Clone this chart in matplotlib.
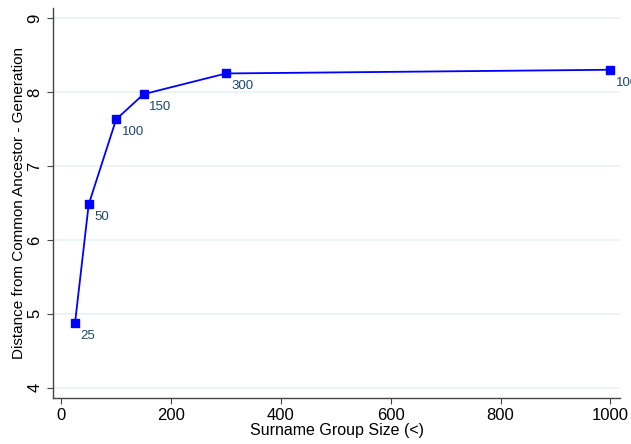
import matplotlib.pyplot as plt

plt.rcParams['font.family'] = ['Liberation Sans', 'DejaVu Sans']

group_size = [25, 50, 100, 150, 300, 1000]
distance = [4.87, 6.48, 7.63, 7.97, 8.25, 8.30]
point_labels = ["25", "50", "100", "150", "300", "1000"]

fig = plt.figure(figsize=(6.31, 4.44), dpi=100)
ax = fig.add_axes([0.084, 0.104, 0.899, 0.878])

ax.plot(group_size, distance, color='#0000ff', linewidth=1.3, marker='s',
        markersize=5.5, zorder=3)

# point labels below-right of each marker
for x, y, lab in zip(group_size, distance, point_labels):
    ax.annotate(lab, (x, y), xytext=(4, -5), textcoords='offset points',
                ha='left', va='top', fontsize=9.5, color='#1a476f',
                annotation_clip=False)

ax.set_xlim(-15, 1018)
ax.set_ylim(3.865, 9.135)
ax.set_xticks([0, 200, 400, 600, 800, 1000])
ax.set_yticks([4, 5, 6, 7, 8, 9])
ax.grid(axis='y', color='#eaf2f3', linewidth=1.2)
ax.set_axisbelow(True)

for s in ['top', 'right']:
    ax.spines[s].set_visible(False)
for s in ['left', 'bottom']:
    ax.spines[s].set_color('#444444')
    ax.spines[s].set_linewidth(1.0)

ax.tick_params(labelsize=12, length=4, color='#444444')
plt.setp(ax.get_yticklabels(), rotation=90, va='center')

ax.set_xlabel("Surname Group Size (<)", fontsize=11.5, labelpad=0)
ax.set_ylabel("Distance from Common Ancestor - Generation", fontsize=11, labelpad=1)

fig.savefig("out.png", dpi=100)
